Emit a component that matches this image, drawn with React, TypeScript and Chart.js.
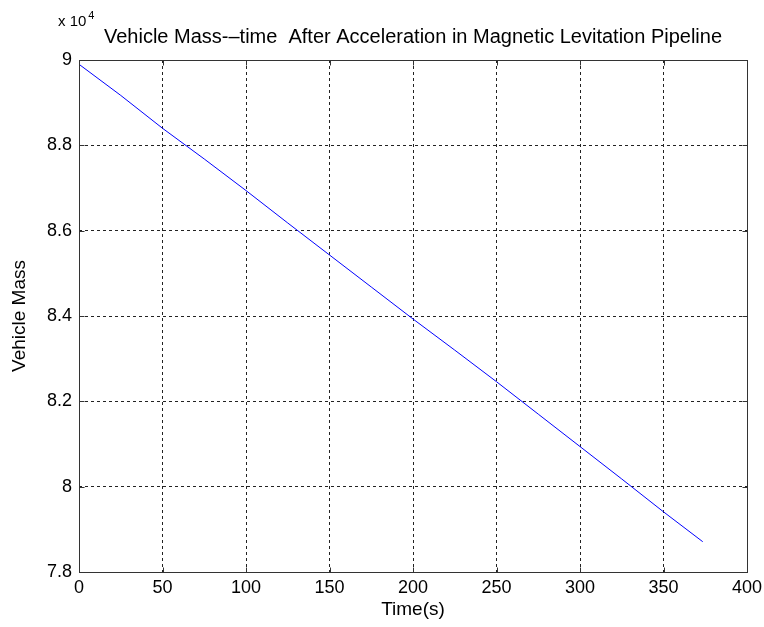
import React, { useEffect, useRef } from "react";
import { Chart, registerables } from "chart.js";

Chart.register(...registerables);

const timeValues = [0, 25, 50, 75, 100, 125, 150, 175, 200, 225, 250, 275, 300, 325, 350, 373.5];
const massValues = [89900, 89170, 88400, 87680, 86940, 86180, 85430, 84680, 83930, 83200, 82460, 81700, 80940, 80180, 79410, 78710];

const chartTitle = "Vehicle Mass-\u2013time  After Acceleration in Magnetic Levitation Pipeline";
const xTitle = "Time(s)";
const yTitle = "Vehicle Mass";
const xMin = 0, xMax = 400, xStep = 50;
const yMin = 78000, yMax = 90000, yStep = 2000;
const exponentText = "x 10";
const exponentSup = "4";

const FONT = "'Liberation Sans', Arial, sans-serif";

const decorPlugin = {
  id: "decor",
  afterDraw(chart: any) {
    const { ctx, chartArea } = chart;
    const L = Math.round(chartArea.left) + 0.5;
    const T = Math.round(chartArea.top) + 0.5;
    const R = Math.round(chartArea.right) + 0.5;
    const B = Math.round(chartArea.bottom) + 0.5;
    ctx.save();
    ctx.strokeStyle = "#333";
    ctx.lineWidth = 1;
    ctx.setLineDash([]);
    ctx.strokeRect(L, T, R - L, B - T);
    const xs = chart.scales.x;
    const ys = chart.scales.y;
    const tl = 5;
    ctx.beginPath();
    xs.ticks.forEach((t: any) => {
      const px = Math.round(xs.getPixelForValue(t.value)) + 0.5;
      ctx.moveTo(px, B); ctx.lineTo(px, B - tl);
      ctx.moveTo(px, T); ctx.lineTo(px, T + tl);
    });
    ys.ticks.forEach((t: any) => {
      const py = Math.round(ys.getPixelForValue(t.value)) + 0.5;
      ctx.moveTo(L, py); ctx.lineTo(L + tl, py);
      ctx.moveTo(R, py); ctx.lineTo(R - tl, py);
    });
    ctx.stroke();
    ctx.fillStyle = "#000";
    ctx.textBaseline = "alphabetic";
    ctx.textAlign = "center";
    ctx.font = `20px ${FONT}`;
    ctx.fillText(chartTitle, (chartArea.left + chartArea.right) / 2, 43);
    ctx.textAlign = "left";
    ctx.font = `15px ${FONT}`;
    ctx.fillText(exponentText, 58, 26);
    const w = ctx.measureText(exponentText).width;
    ctx.font = `11px ${FONT}`;
    ctx.fillText(exponentSup, 58 + w + 2, 19);
    ctx.restore();
  },
};

export default function App() {
  const ref = useRef<HTMLCanvasElement>(null);
  useEffect(() => {
    document.body.style.margin = "0";
    const chart = new Chart(ref.current!, {
      type: "line",
      data: {
        datasets: [
          {
            data: timeValues.map((t, i) => ({ x: t, y: massValues[i] })),
            borderColor: "#0000ff",
            borderWidth: 1,
            pointRadius: 0,
            fill: false,
            tension: 0,
          },
        ],
      },
      options: {
        responsive: false,
        animation: false,
        layout: { padding: { top: 60, right: 17, left: 0, bottom: 0 } },
        plugins: { legend: { display: false }, title: { display: false }, tooltip: { enabled: false } },
        scales: {
          x: {
            type: "linear",
            min: xMin,
            max: xMax,
            afterFit: (s: any) => { s.height = 55; s.paddingRight = 0; s.paddingLeft = 0; },
            ticks: { stepSize: xStep, color: "#000", font: { family: FONT, size: 18 }, padding: 5, maxRotation: 0 },
            grid: { color: "#222", drawTicks: false, lineWidth: 1 },
            border: { display: false, dash: [3, 3] },
            title: { display: true, text: xTitle, color: "#000", font: { family: FONT, size: 19 }, padding: { top: 0, bottom: 6 } },
          },
          y: {
            type: "linear",
            min: yMin,
            max: yMax,
            afterFit: (s: any) => { s.width = 79; s.paddingTop = 0; s.paddingBottom = 0; },
            ticks: {
              stepSize: yStep,
              color: "#000",
              font: { family: FONT, size: 18 },
              padding: 7,
              callback: (v: any) => String(Number((Number(v) / 10000).toFixed(1))),
            },
            grid: { color: "#222", drawTicks: false, lineWidth: 1 },
            border: { display: false, dash: [3, 3] },
            title: { display: true, text: yTitle, color: "#000", font: { family: FONT, size: 19 }, padding: { top: 8, bottom: 0 } },
          },
        },
      },
      plugins: [decorPlugin],
    });
    return () => chart.destroy();
  }, []);
  return (
    <div style={{ width: 764, height: 627, background: "#fff" }}>
      <canvas ref={ref} width={764} height={627} style={{ display: "block" }} />
    </div>
  );
}
